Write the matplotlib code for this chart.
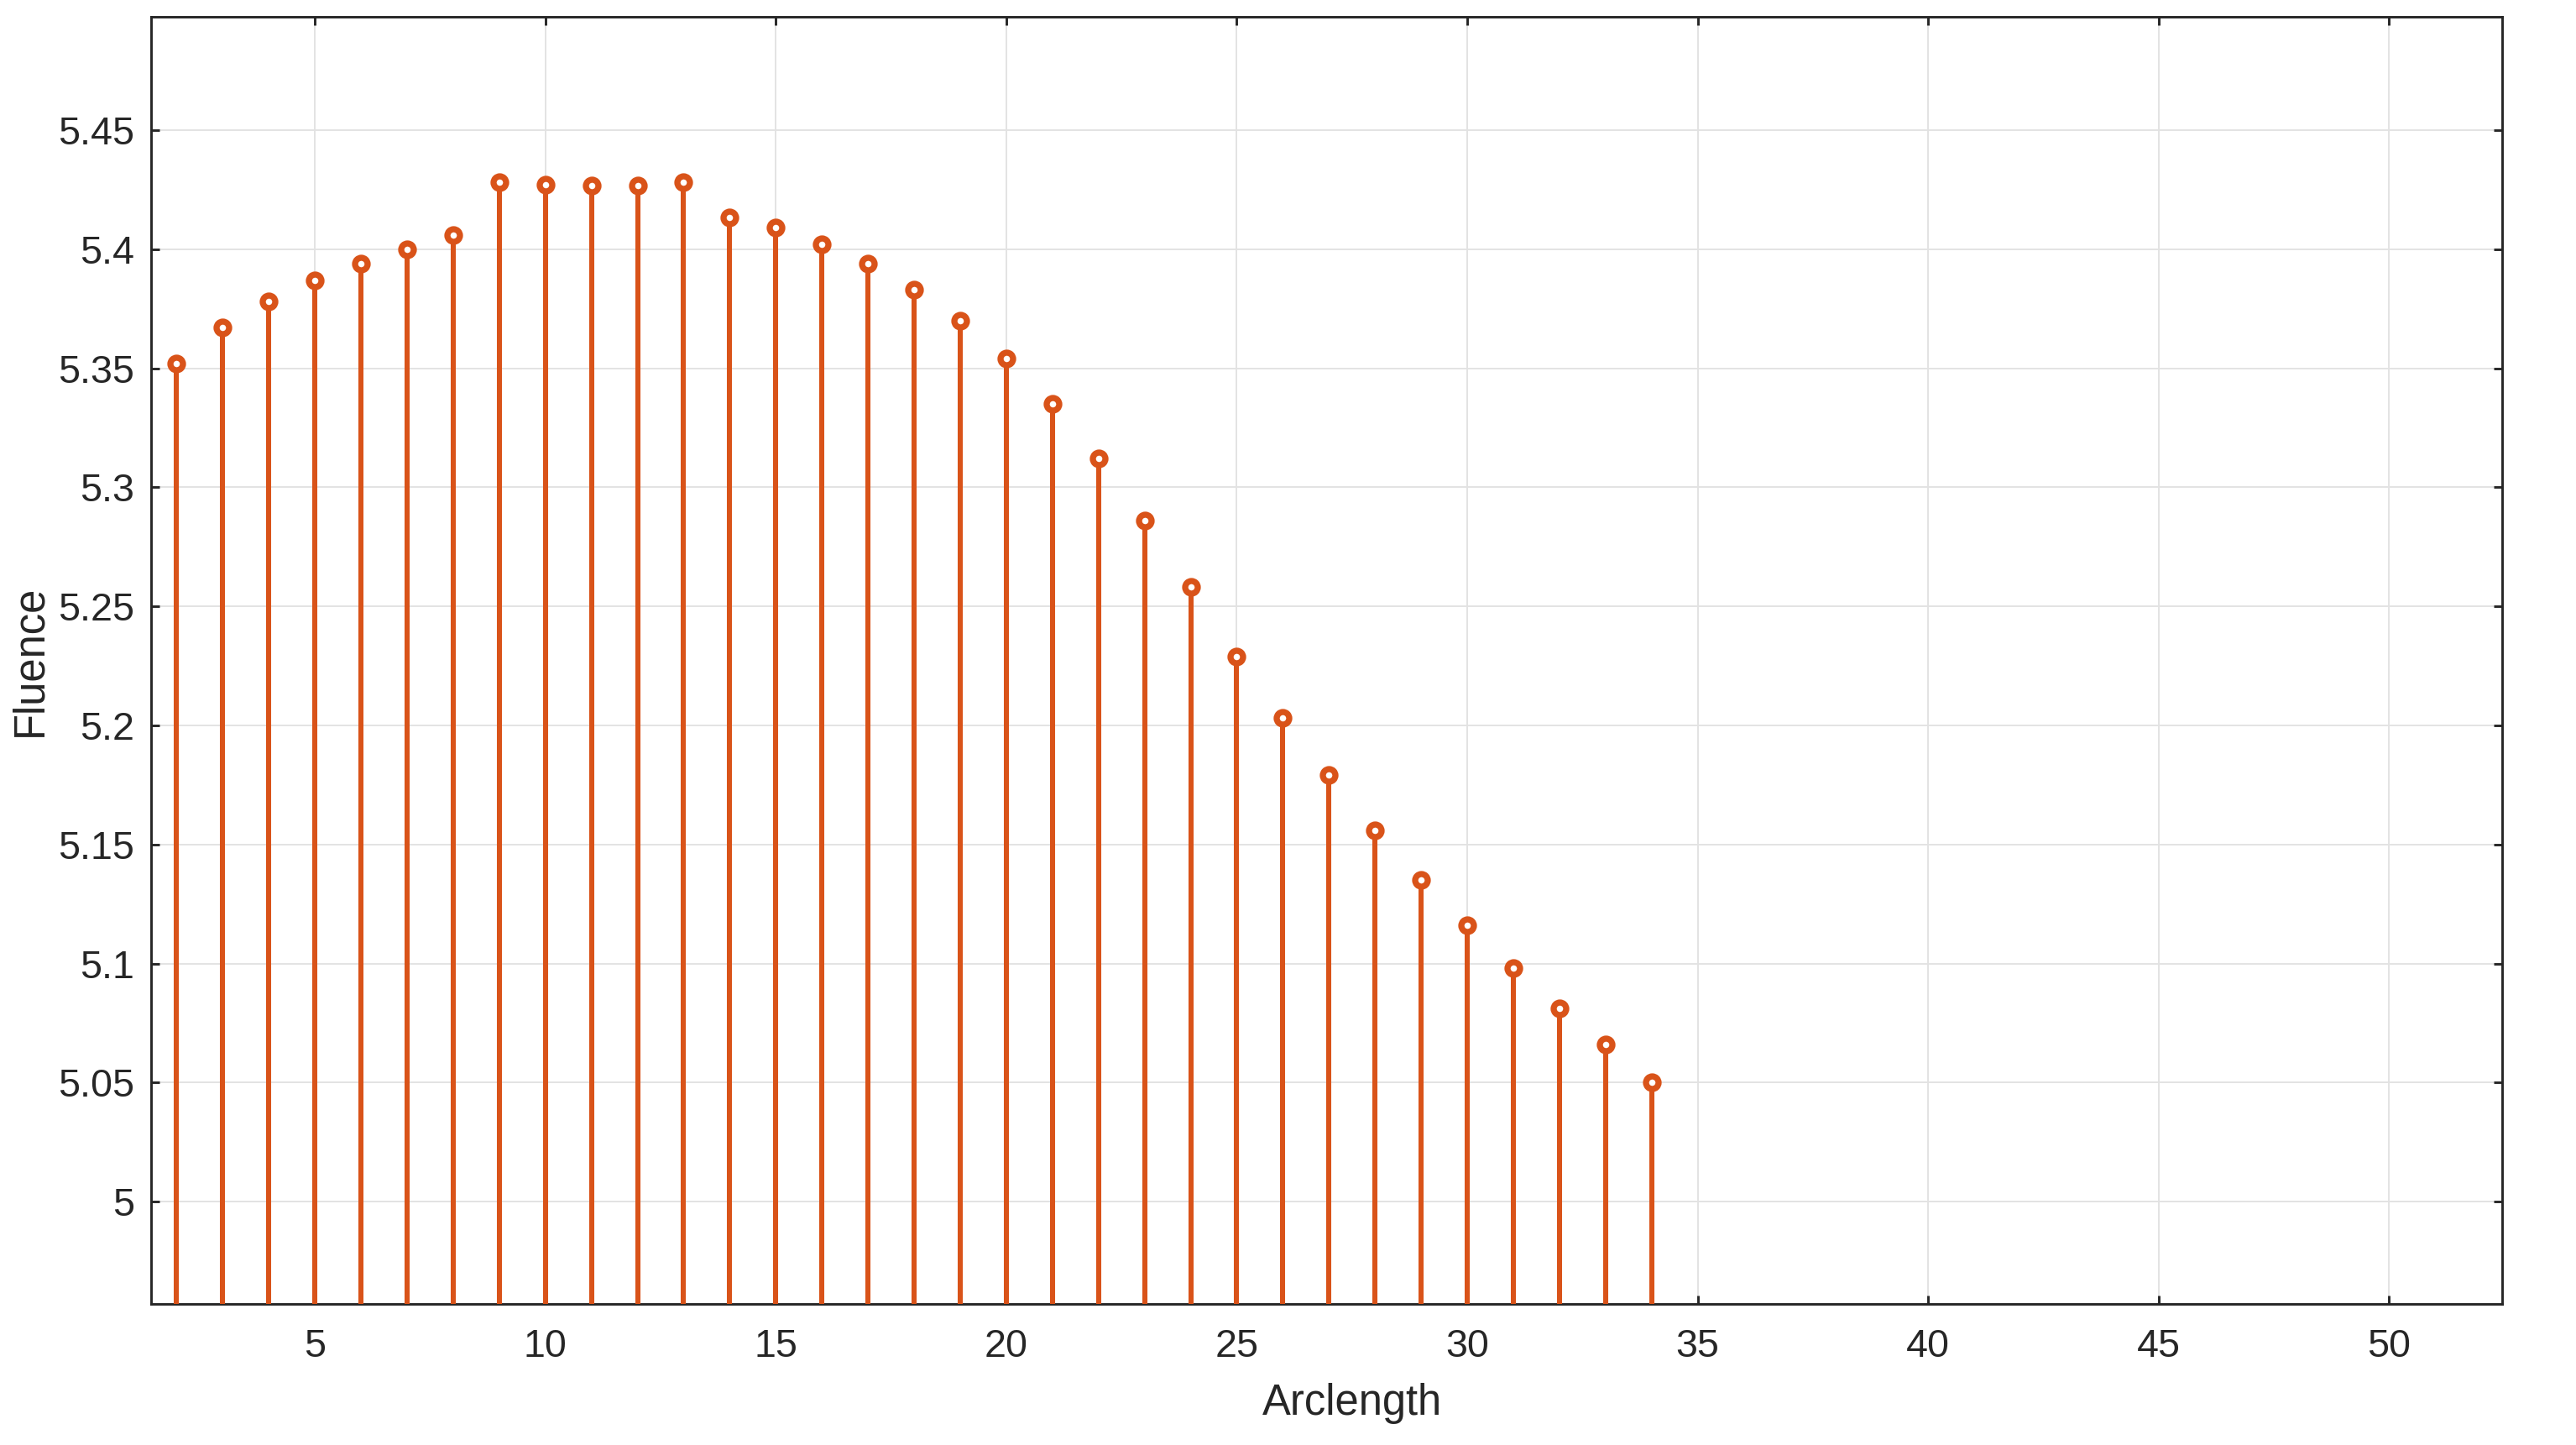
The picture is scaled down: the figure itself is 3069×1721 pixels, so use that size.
import numpy as np
import matplotlib.pyplot as plt

plt.rcParams['font.family'] = ['Liberation Sans', 'DejaVu Sans']
plt.rcParams['font.size'] = 11

# arclength index and fluence values
arclength = np.arange(2, 35)
fluence = [5.352, 5.367, 5.378, 5.387, 5.394, 5.400, 5.406, 5.428, 5.427,
           5.4266, 5.4266, 5.428, 5.4134, 5.409, 5.402, 5.394, 5.383, 5.370,
           5.354, 5.335, 5.312, 5.286, 5.258, 5.229, 5.203, 5.179, 5.156,
           5.135, 5.116, 5.098, 5.081, 5.066, 5.050]
xticks = [5, 10, 15, 20, 25, 30, 35, 40, 45, 50]
yticks = [5, 5.05, 5.1, 5.15, 5.2, 5.25, 5.3, 5.35, 5.4, 5.45]

col = '#D95319'
fig = plt.figure(figsize=(3069/300, 1721/300), dpi=300)
ax = fig.add_axes([0.0587, 0.0976, 0.9126, 0.8908])

ax.vlines(arclength, 0, fluence, color=col, lw=1.45, zorder=3)
ax.plot(arclength, fluence, 'o', color=col, mfc='white', mec=col, ms=3.6, mew=1.75, zorder=4)

ax.set_xlim(1.45, 52.45)
ax.set_ylim(4.957, 5.4976)
ax.set_xticks(xticks)
ax.set_yticks(yticks)
ax.set_yticklabels([f'{v:g}' for v in yticks])
ax.grid(True, color='#e2e2e2', lw=0.45)
ax.set_axisbelow(True)
ax.tick_params(direction='in', length=2.4, width=0.7, top=True, right=True, colors='#262626', labelsize=11.2)
ax.tick_params(axis='x', pad=7)
ax.tick_params(axis='y', pad=4.8)
for s in ax.spines.values():
    s.set_color('#262626')
    s.set_linewidth(0.7)
ax.set_xlabel('Arclength', fontsize=12.2, color='#262626', labelpad=5)
ax.xaxis.label.set_x(0.511)
ax.set_ylabel('Fluence', fontsize=12.2, color='#262626', labelpad=2)

fig.savefig('out.png', dpi=300)
